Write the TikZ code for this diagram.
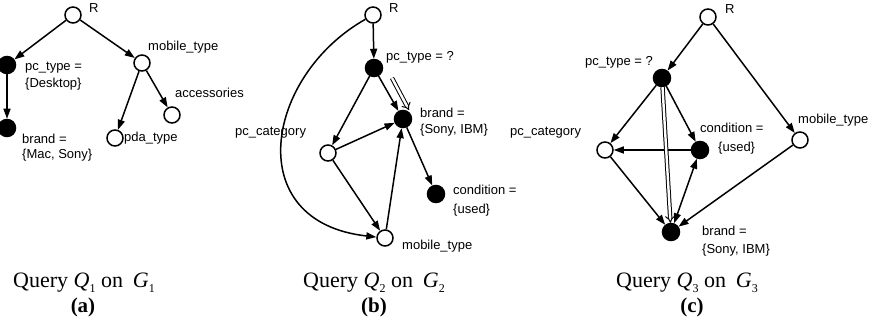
\documentclass[tikz,border=0pt]{standalone}
\usepackage{fontspec}
\setmainfont{Liberation Serif}
\newfontfamily\labfont{Liberation Sans}
\usetikzlibrary{arrows.meta}
\newcommand{\capsubscr}[1]{\raisebox{-5pt}{\fontsize{12}{12}\selectfont #1}}
\begin{document}
\begin{tikzpicture}[x=1pt,y=-1pt,
  vtx/.style={circle,draw,line width=1.5pt,minimum size=16pt,inner sep=0pt},
  fvtx/.style={vtx,fill=black,minimum size=17pt},
  lab/.style={font=\labfont\fontsize{13}{15}\selectfont,anchor=mid west,inner sep=0pt},
  arr/.style={line width=1.5pt,-{Triangle[length=10pt,width=7pt]}},
  biarr/.style={line width=1.5pt,{Triangle[length=10pt,width=7pt]}-{Triangle[length=10pt,width=7pt]}},
  dbl/.style={double,double distance=2.4pt,line width=1pt,-{Implies[scale=1.3]}},
  captext/.style={font=\fontsize{22}{26}\selectfont,anchor=base,inner sep=0pt},
  capsub/.style={font=\bfseries\fontsize{21}{25}\selectfont,anchor=base,inner sep=0pt}
]
\useasboundingbox (0,0) rectangle (871,323);

% ---------------- Panel (a)
\node[vtx]  (aR)   at (73,15)  {};
\node[fvtx] (apc)  at (7,65)   {};
\node[fvtx] (abr)  at (7,128)  {};
\node[vtx]  (amob) at (142,63) {};
\node[vtx]  (aacc) at (172,115){};
\node[vtx]  (apda) at (115,138){};
\node[lab] (laR)   at (89,10)  {R};
\node[lab] (lapc1) at (25,68)  {pc\_type =};
\node[lab] (lapc2) at (25,85)  {\{Desktop\}};
\node[lab] (labr1) at (22,141) {brand =};
\node[lab] (labr2) at (22,156) {\{Mac, Sony\}};
\node[lab] (lamob) at (148,48) {mobile\_type};
\node[lab] (laacc) at (175,95) {accessories};
\node[lab] (lapda) at (124,139){pda\_type};
\draw[arr] (aR) -- (apc);
\draw[arr] (aR) -- (amob);
\draw[arr] (apc) -- (abr);
\draw[arr] (amob) -- (apda);
\draw[arr] (amob) -- (aacc);
\node[captext] (capa) at (84,288) {Query \textit{Q}\capsubscr{1} on\hspace{0.45em}\textit{G}\capsubscr{1}};
\node[capsub] (suba) at (83,313) {(a)};

% ---------------- Panel (b)
\node[vtx]  (bR)   at (373,15)  {};
\node[fvtx] (bpc)  at (374,68)  {};
\node[fvtx] (bbr)  at (403,119) {};
\node[fvtx] (bcond) at (436,194){};
\node[vtx]  (bcat) at (328,153) {};
\node[vtx]  (bmob) at (385,238) {};
\node[lab] (lbR)   at (389,10)  {R};
\node[lab] (lbpc)  at (386,58)  {pc\_type = ?};
\node[lab] (lbbr1) at (420,115) {brand =};
\node[lab] (lbbr2) at (420,131) {\{Sony, IBM\}};
\node[lab] (lbco1) at (453,192) {condition =};
\node[lab] (lbco2) at (453,211) {\{used\}};
\node[lab] (lbcat) at (235,133) {pc\_category};
\node[lab] (lbmob) at (402,247) {mobile\_type};
\draw[arr] (bR) -- (bpc);
\draw[arr] (bpc) -- (bcat);
\draw[arr] (bpc) -- (bbr);
\draw[arr] (bcat) -- (bbr);
\draw[arr] (bcat) -- (bmob);
\draw[arr] (bmob) -- (bbr);
\draw[arr] (bbr) -- (bcond);
\draw[arr] (bR) .. controls (265,76) and (240,222) .. (bmob);
\coordinate (bd1) at (392,78);
\coordinate (bd2) at (409,110);
\draw[dbl] (bd1) -- (bd2);
\node[captext] (capb) at (374,288) {Query \textit{Q}\capsubscr{2} on\hspace{0.45em}\textit{G}\capsubscr{2}};
\node[capsub] (subb) at (374,313) {(b)};

% ---------------- Panel (c)
\node[vtx]  (cR)   at (708,17)  {};
\node[fvtx] (cpc)  at (662,78)  {};
\node[vtx]  (ccat) at (605,150) {};
\node[fvtx] (ccond) at (700,150){};
\node[vtx]  (cmob) at (800,140) {};
\node[fvtx] (cbr)  at (671,232) {};
\node[lab] (lcR)   at (725,11)  {R};
\node[lab] (lcpc)  at (585,63)  {pc\_type = ?};
\node[lab] (lccat) at (510,133) {pc\_category};
\node[lab] (lcco1) at (700,130) {condition =};
\node[lab] (lcco2) at (718,149) {\{used\}};
\node[lab] (lcmob) at (798,121) {mobile\_type};
\node[lab] (lcbr1) at (702,233) {brand =};
\node[lab] (lcbr2) at (702,251) {\{Sony, IBM\}};
\draw[arr] (cR) -- (cpc);
\draw[arr] (cR) -- (cmob);
\draw[arr] (cpc) -- (ccat);
\draw[arr] (cpc) -- (ccond);
\draw[arr] (ccond) -- (ccat);
\draw[biarr] (ccond) -- (cbr);
\draw[arr] (ccat) -- (cbr);
\draw[arr] (cmob) -- (cbr);
\draw[dbl] (cpc) -- (cbr);
\node[captext] (capc) at (687,288) {Query \textit{Q}\capsubscr{3} on\hspace{0.45em}\textit{G}\capsubscr{3}};
\node[capsub] (subc) at (692,313) {(c)};
\end{tikzpicture}
\end{document}
